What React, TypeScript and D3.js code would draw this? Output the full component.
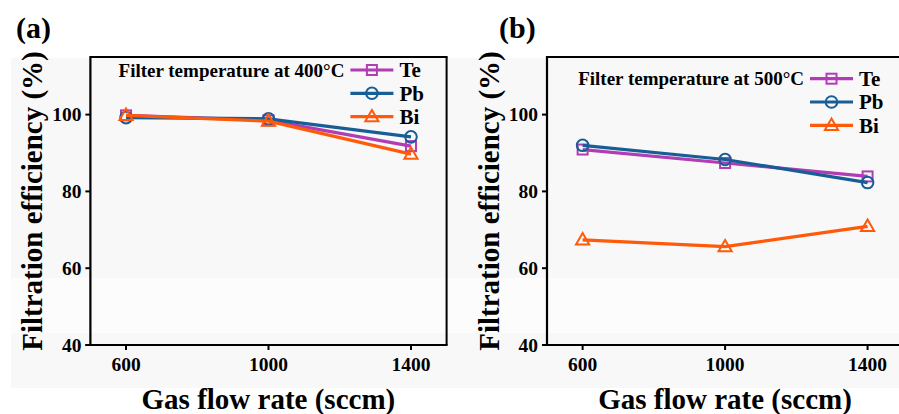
import React from "react";
import * as d3 from "d3";

// gas flow rates (sccm)
const flowRates = [600, 1000, 1400];
const xTicks = [600, 1000, 1400];
const yTicks = [40, 60, 80, 100];

// filtration efficiency (%), filter at 400 C
const te400 = [99.8, 98.5, 91.8];
const pb400 = [99.2, 98.9, 94.2];
const bi400 = [99.8, 98.3, 89.7];

// filtration efficiency (%), filter at 500 C
const te500 = [90.9, 87.4, 83.9];
const pb500 = [92.0, 88.3, 82.3];
const bi500 = [67.4, 65.6, 70.9];

const seriesNames = ["Te", "Pb", "Bi"];
const colors = ["#B23CB4", "#185E96", "#FF5A0A"];
const markers = ["square", "circle", "triangle"];

const FONT = "'Liberation Serif', 'Times New Roman', serif";

const Marker = ({ kind, x, y, color }: any) => {
  if (kind === "square") {
    return <rect x={x - 5} y={y - 5} width={10} height={10} fill="none" stroke={color} strokeWidth={2} />;
  }
  if (kind === "circle") {
    return <circle cx={x} cy={y} r={5.8} fill="none" stroke={color} strokeWidth={2} />;
  }
  const s = d3.symbol().type(d3.symbolTriangle).size(75)();
  return <path d={s as string} transform={`translate(${x},${y + 0.8})`} fill="none" stroke={color} strokeWidth={2} />;
};

const Panel = ({ left, label, labelX, title, series, legendDy, legendOffset }: any) => {
  const top = 57;
  const bottom = 345;
  const x = d3.scaleLinear().domain([500, 1500]).range([left, left + 356.2]);
  const y = d3.scaleLinear().domain([40, 115]).range([bottom, top]);
  const line = d3
    .line<number>()
    .x((_, i) => x(flowRates[i]))
    .y((d) => y(d));
  const right = Math.min(x(1500), 899);
  const legY = [70 + legendDy, 93.3 + legendDy, 116.7 + legendDy];
  const lx0 = left + legendOffset;
  return (
    <g>
      <text x={labelX} y={38} fontSize={30} fontWeight="bold" fontFamily={FONT}>
        {label}
      </text>
      {/* frame */}
      <line x1={left} x2={right + 1} y1={top} y2={top} stroke="#000" strokeWidth={2} />
      {x(1500) < 899 && <line x1={right} x2={right} y1={top} y2={bottom} stroke="#000" strokeWidth={2} />}
      <line x1={left} x2={left} y1={top - 1} y2={bottom} stroke="#000" strokeWidth={2.2} />
      <line x1={left - 5} x2={right + 1} y1={bottom} y2={bottom} stroke="#000" strokeWidth={2.2} />
      {yTicks.map((t) => (
        <g key={t}>
          <line x1={left - 5} x2={left} y1={y(t)} y2={y(t)} stroke="#000" strokeWidth={2} />
          <text
            x={left - 9}
            y={y(t)}
            dy="0.35em"
            textAnchor="end"
            fontSize={19.5}
            fontWeight="bold"
            fontFamily={FONT}
          >
            {t}
          </text>
        </g>
      ))}
      {xTicks.map((t) => (
        <g key={t}>
          <line x1={x(t)} x2={x(t)} y1={bottom} y2={bottom + 5} stroke="#000" strokeWidth={2} />
          <text x={x(t)} y={371} textAnchor="middle" fontSize={19.5} fontWeight="bold" fontFamily={FONT}>
            {t}
          </text>
        </g>
      ))}
      <text
        transform={`translate(${left - 48},201) rotate(-90)`}
        textAnchor="middle"
        fontSize={29}
        fontWeight="bold"
        fontFamily={FONT}
      >
        Filtration efficiency (%)
      </text>
      <text x={left + 178} y={409} textAnchor="middle" fontSize={29} fontWeight="bold" fontFamily={FONT}>
        Gas flow rate (sccm)
      </text>
      {series.map((vals: number[], k: number) => (
        <g key={k}>
          <path d={line(vals) as string} fill="none" stroke={colors[k]} strokeWidth={3.2} />
          {vals.map((v, i) => (
            <Marker key={i} kind={markers[k]} x={x(flowRates[i])} y={y(v)} color={colors[k]} />
          ))}
        </g>
      ))}
      {/* legend */}
      <text
        x={lx0 - 6}
        y={legY[0]}
        dy="0.35em"
        textAnchor="end"
        fontSize={19}
        fontWeight="bold"
        fontFamily={FONT}
      >
        {title}
      </text>
      {seriesNames.map((n, k) => (
        <g key={n}>
          <line x1={lx0} x2={lx0 + 43} y1={legY[k]} y2={legY[k]} stroke={colors[k]} strokeWidth={3.2} />
          <Marker kind={markers[k]} x={lx0 + 21.5} y={legY[k]} color={colors[k]} />
          <text x={lx0 + 49} y={legY[k]} dy="0.35em" fontSize={21} fontWeight="bold" fontFamily={FONT}>
            {n}
          </text>
        </g>
      ))}
    </g>
  );
};

export default function App() {
  return (
    <svg width={899} height={414} style={{ position: "absolute", left: 0, top: 0 }}>
      <rect width={899} height={414} fill="#fff" />
      <rect x={11} y={58} width={888} height={330} fill="#f8f8f8" />
      <rect x={11} y={278} width={888} height={55} fill="#fcfcfc" />
      <Panel
        left={90.4}
        label="(a)"
        labelX={16}
        title="Filter temperature at 400°C"
        series={[te400, pb400, bi400]}
        legendDy={0}
        legendOffset={260}
      />
      <Panel
        left={547}
        label="(b)"
        labelX={499}
        title="Filter temperature at 500°C"
        series={[te500, pb500, bi500]}
        legendDy={8.7}
        legendOffset={263}
      />
    </svg>
  );
}
